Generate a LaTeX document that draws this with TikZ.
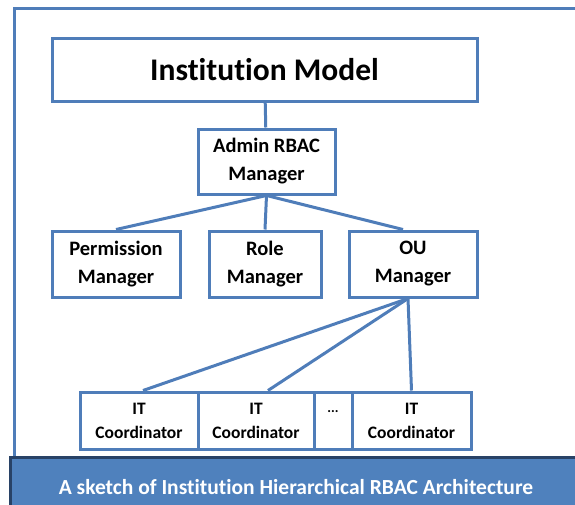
\documentclass[tikz,border=0pt]{standalone}
\usepackage{fontspec}
\setmainfont{Carlito}[Ligatures=NoCommon]
\usetikzlibrary{positioning}
\definecolor{linkblue}{RGB}{79,125,185}
\definecolor{barblue}{RGB}{79,129,189}
\definecolor{bardark}{RGB}{40,66,102}

\begin{document}
\begin{tikzpicture}[x=1pt,y=-1pt]
			\tikzstyle{box}=[draw=linkblue,line width=3pt,fill=white,align=center,font=\bfseries,inner sep=0pt]
			\tikzstyle{link}=[draw=linkblue,line width=3pt]

			\useasboundingbox (0,0) rectangle (575,504);
			\draw[linkblue,line width=3pt] (14,530) -- (14,8) -- (600,8);

			\node (inst) at (264.5,69.5) [box,minimum width=425pt,minimum height=63pt,font=\fontsize{31.5}{33}\selectfont\bfseries] {Institution Model};
			\node (admin) at (266.5,161.5) [box,minimum width=137pt,minimum height=65pt,font=\fontsize{20.5}{28}\selectfont\bfseries] {Admin RBAC\\Manager};

			\node (perm) at (116,264) [box,minimum width=128pt,minimum height=66pt,font=\fontsize{20.5}{28}\selectfont\bfseries] {Permission\\Manager};
			\node (role) at (265,264) [box,minimum width=112pt,minimum height=66pt,font=\fontsize{20.5}{28}\selectfont\bfseries] {Role\\Manager};
			\node (ou) at (413,264) [box,minimum width=128pt,minimum height=66pt,font=\fontsize{20.5}{28}\selectfont\bfseries] {OU\\Manager};

			\node (it1) at (139,420.5) [box,minimum width=118pt,minimum height=57pt,font=\fontsize{17.5}{24}\selectfont\bfseries] {IT\\Coordinator};
			\node (it2) at (256,420.5) [box,minimum width=116pt,minimum height=57pt,font=\fontsize{17.5}{24}\selectfont\bfseries] {IT\\Coordinator};
			\node (dots) at (333,420.5) [box,minimum width=38pt,minimum height=57pt,font=\fontsize{14}{16}\selectfont\bfseries] {...\\[2pt]};
			\node (it3) at (411.5,420.5) [box,minimum width=119pt,minimum height=57pt,font=\fontsize{17.5}{24}\selectfont\bfseries] {IT\\Coordinator};

			\path [link] (inst) -- (admin);
			\path [link] (admin.south) -- (perm.north);
			\path [link] (admin.south) -- (role.north);
			\path [link] (admin.south) -- ([xshift=-10pt]ou.north);

			\path [link] ([xshift=-5pt]ou.south) -- ([xshift=4pt]it1.north);
			\path [link] ([xshift=-5pt]ou.south) -- ([xshift=12pt]it2.north);
			\path [link] ([xshift=-5pt]ou.south) -- (it3.north);

			\draw[bardark,fill=barblue,line width=3pt] (10,457) rectangle (600,530);
			\node (caption) at (296,487) [text=white,font=\fontsize{21.5}{24}\selectfont\bfseries] {A sketch of Institution Hierarchical RBAC Architecture};
		\end{tikzpicture}
\end{document}
